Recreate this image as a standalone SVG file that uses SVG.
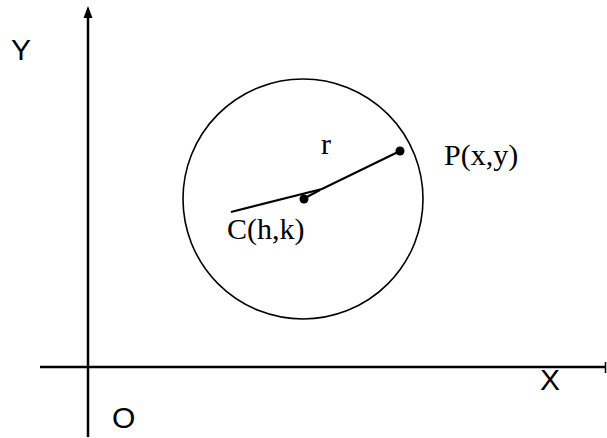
<svg xmlns="http://www.w3.org/2000/svg" width="607" height="438" viewBox="0 0 607 438">
  <style>
    .axis { stroke: #000; stroke-width: 2.5; fill: none; }
    .sans { font-family: "Liberation Sans", Arial, sans-serif; font-size: 30px; fill: #000; }
    .serif { font-family: "Liberation Serif", "Times New Roman", serif; font-size: 30px; fill: #000; }
    .dot { fill: #000; }
  </style>
  <defs>
    <marker id="arrow" markerWidth="10" markerHeight="12" refX="5" refY="1" orient="auto" markerUnits="userSpaceOnUse" viewBox="0 0 10 12">
      <path d="M0,11 L5,0 L10,11 Z" fill="#000"/>
    </marker>
  </defs>
  <rect width="607" height="438" fill="#fff"/>
  <g id="axes">
    <line class="axis" x1="88" y1="437" x2="88" y2="17"/>
    <path d="M83.5,18 L88,6 L92.5,18 Z" fill="#000"/>
    <line class="axis" x1="40" y1="367" x2="606" y2="367"/>
    <line x1="605.5" y1="362" x2="605.5" y2="373" stroke="#000" stroke-width="1.5"/>
    <text class="sans" x="11" y="60">Y</text>
    <text class="sans" x="540" y="390">X</text>
    <text class="sans" x="112" y="428">O</text>
  </g>
  <g id="circle">
    <circle cx="303" cy="199" r="120" fill="none" stroke="#000" stroke-width="1.6"/>
  </g>
  <g id="connectors">
    <polyline points="231,212 322,189 400,151" fill="none" stroke="#000" stroke-width="2.2"/>
    <line x1="303" y1="199" x2="320" y2="190" stroke="#000" stroke-width="2.2"/>
  </g>
  <g id="radius-label">
    <text class="serif" x="321" y="154">r</text>
  </g>
  <g id="center">
    <circle class="dot" cx="304" cy="199" r="4.5"/>
    <text class="serif" x="227" y="239">C(h,k)</text>
  </g>
  <g id="point">
    <circle class="dot" cx="400" cy="151" r="4.5"/>
    <text class="serif" x="444" y="165">P(x,y)</text>
  </g>
</svg>
